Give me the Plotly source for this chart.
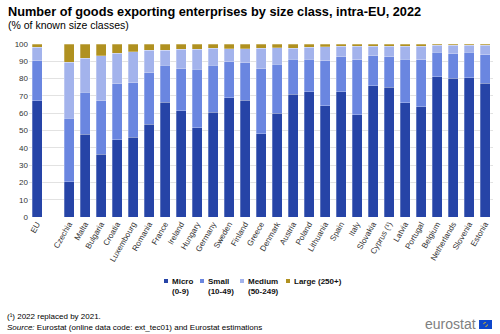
import plotly.graph_objects as go

# Size-class shares of goods exporting enterprises (intra-EU trade, 2022, %)
countries = ["EU", " ", "Czechia", "Malta", "Bulgaria", "Croatia", "Luxembourg", "Romania",
             "France", "Ireland", "Hungary", "Germany", "Sweden", "Finland", "Greece",
             "Denmark", "Austria", "Poland", "Lithuania", "Spain", "Italy", "Slovakia",
             "Cyprus (¹)", "Latvia", "Portugal", "Belgium", "Netherlands", "Slovenia", "Estonia"]

micro = [67.3, None, 20.5, 47.9, 36.3, 44.8, 46.2, 53.7, 66.4, 61.5, 51.7, 60.6, 68.8, 67.5,
         48.1, 60.0, 71.0, 72.5, 64.2, 72.5, 59.2, 75.9, 75.0, 66.1, 63.8, 81.0, 80.2, 80.6, 77.3]
small = [22.9, None, 36.6, 24.2, 31.0, 32.3, 31.3, 29.7, 21.3, 24.3, 33.7, 27.1, 21.0, 21.7,
         37.7, 28.3, 20.2, 18.7, 26.0, 20.0, 31.8, 17.4, 17.5, 25.2, 27.2, 14.2, 14.2, 14.6, 16.5]
medium = [7.9, None, 32.3, 19.6, 25.8, 17.7, 18.1, 13.1, 8.8, 11.1, 11.7, 9.8, 7.5, 8.1,
          11.7, 9.4, 6.3, 6.9, 8.2, 6.2, 7.7, 5.5, 6.2, 7.4, 7.7, 4.0, 4.8, 4.0, 5.4]
large = [1.9, None, 10.6, 8.3, 6.9, 5.2, 4.4, 3.5, 3.5, 3.1, 2.9, 2.5, 2.7, 2.7,
         2.5, 2.3, 2.5, 1.9, 1.6, 1.3, 1.3, 1.2, 1.3, 1.3, 1.3, 0.8, 0.8, 0.8, 0.8]

series_names = ["Micro", "Small", "Medium", "Large (250+)"]
series_ranges = ["(0-9)", "(10-49)", "(50-249)", ""]
series_values = [micro, small, medium, large]
series_colors = ["#2644A7", "#6A86E0", "#A3B3EC", "#B09120"]

W, H = 500, 334
ML, MR, MT, MB = 29, 7, 44, 117
PW, PH = W - ML - MR, H - MT - MB


def px(x):
    """Horizontal pixel -> paper coordinate."""
    return (x - ML) / PW


def py(y):
    """Vertical pixel (from top) -> paper coordinate."""
    return (H - MB - y) / PH


fig = go.Figure()
for name, vals, color in zip(series_names, series_values, series_colors):
    fig.add_trace(go.Bar(
        x=countries, y=vals, name=name,
        marker=dict(color=color, line=dict(color="rgba(255,255,255,0.45)", width=0.6)),
    ))

fig.update_layout(
    barmode="stack",
    bargap=0.375,
    width=W, height=H,
    margin=dict(l=ML, r=MR, t=MT, b=MB),
    paper_bgcolor="white", plot_bgcolor="white",
    font=dict(family="Liberation Sans, Arial, sans-serif", color="#333333", size=8),
    showlegend=False,
    xaxis=dict(
        type="category", categoryorder="array", categoryarray=countries,
        tickangle=-60, tickfont=dict(size=8, color="#333333"),
        showline=False, ticks="", showgrid=False,
    ),
    yaxis=dict(
        range=[0, 100], dtick=10, tickfont=dict(size=8, color="#333333"),
        showgrid=True, gridcolor="#e2e2e2", gridwidth=1, zeroline=False,
        ticks="", showline=False,
    ),
)

annotations = []
shapes = []

# Title and subtitle
annotations.append(dict(
    text="<b>Number of goods exporting enterprises by size class, intra-EU, 2022</b>",
    x=px(6), y=py(11), xanchor="left", yanchor="middle",
    font=dict(size=12.75, color="#000000")))
annotations.append(dict(
    text="(% of known size classes)",
    x=px(6), y=py(25), xanchor="left", yanchor="middle",
    font=dict(size=10.5, color="#000000")))

# Legend drawn as small squares with two-line bold labels
legend_x = [166, 202, 242, 288]
for lx, name, rng, color in zip(legend_x, series_names, series_ranges, series_colors):
    shapes.append(dict(type="rect", xref="paper", yref="paper",
                       x0=px(lx - 2), x1=px(lx + 2), y0=py(283), y1=py(279),
                       fillcolor=color, line=dict(width=0)))
    annotations.append(dict(text=f"<b>{name}</b>", x=px(lx + 4), y=py(281),
                            xanchor="left", yanchor="middle",
                            font=dict(size=8, color="#111111")))
    if rng:
        annotations.append(dict(text=f"<b>{rng}</b>", x=px(lx + 4), y=py(291),
                                xanchor="left", yanchor="middle",
                                font=dict(size=8, color="#111111")))

# Footnotes
annotations.append(dict(text="(¹) 2022 replaced by 2021.",
                        x=px(5), y=py(316), xanchor="left", yanchor="middle",
                        font=dict(size=8, color="#000000")))
annotations.append(dict(
    text="<i>Source:</i> Eurostat (online data code: ext_tec01) and Eurostat estimations",
    x=px(5), y=py(327), xanchor="left", yanchor="middle",
    font=dict(size=8, color="#000000")))

# Logo: wordmark and flag
annotations.append(dict(text="eurostat", x=px(478), y=py(324),
                        xanchor="right", yanchor="middle",
                        font=dict(size=14, color="#808080")))
shapes.append(dict(type="rect", xref="paper", yref="paper",
                   x0=px(479), x1=px(492), y0=py(329), y1=py(320),
                   fillcolor="#0E47CB", line=dict(width=0)))
shapes.append(dict(type="circle", xref="paper", yref="paper",
                   x0=px(483.5), x1=px(487.5), y0=py(326.5), y1=py(322.5),
                   fillcolor="rgba(0,0,0,0)", line=dict(color="#FFCC00", width=0.8, dash="dot")))

for a in annotations:
    a.update(xref="paper", yref="paper", showarrow=False)

fig.update_layout(annotations=annotations, shapes=shapes)

fig.write_html("out.html")
